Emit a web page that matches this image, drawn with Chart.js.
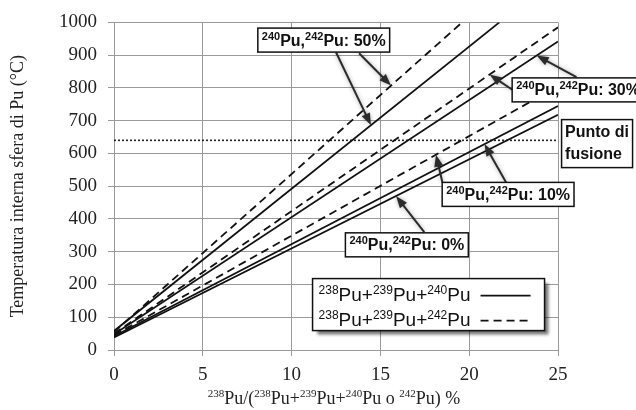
<!DOCTYPE html>
<html>
<head>
<meta charset="utf-8">
<script src="https://cdn.jsdelivr.net/npm/chart.js@4/dist/chart.umd.min.js"></script>
<style>
  html, body { margin: 0; padding: 0; background: #fff; }
  #wrap { width: 636px; height: 410px; }
</style>
</head>
<body>
<div id="wrap"><canvas id="pu-chart"></canvas></div>
<script>
// Pu sphere centre temperature vs 238Pu fraction, for several 240Pu / 242Pu contents
const pctLabels = ["50%", "30%", "10%", "0%"];

// 238Pu+239Pu+240Pu (solid): value at 0 % and at the last point
const pu240StartY = [58, 48, 42, 38];
const pu240EndX = [21.7, 25, 25, 25];
const pu240EndY = [1000, 942, 745, 718];

// 238Pu+239Pu+242Pu (dashed), the 0% case is the same curve as above
const pu242StartY = [55, 50, 45];
const pu242EndX = [19.6, 25, 25];
const pu242EndY = [1000, 985, 805];

const meltingPoint = 640;
const xTicks = [0, 5, 10, 15, 20, 25];
const yTicks = [0, 100, 200, 300, 400, 500, 600, 700, 800, 900, 1000];

const SERIF = "'Liberation Serif', 'Times New Roman', serif";
const SANS = "'Liberation Sans', Arial, sans-serif";

function lineData(startY, endX, endY, i) {
    return [{ x: 0, y: startY[i] }, { x: endX[i], y: endY[i] }];
}
function lineYAt(startY, endX, endY, i, x) {
    return startY[i] + (endY[i] - startY[i]) * x / endX[i];
}

const datasets = [];
pctLabels.forEach((p, i) => {
    if (i < pu242StartY.length) {
        datasets.push({
            label: "242Pu " + p,
            data: lineData(pu242StartY, pu242EndX, pu242EndY, i),
            borderColor: "#111",
            borderWidth: 1.8,
            borderDash: [8, 5],
        });
    }
    datasets.push({
        label: "240Pu " + p,
        data: lineData(pu240StartY, pu240EndX, pu240EndY, i),
        borderColor: "#111",
        borderWidth: 1.8,
    });
});
datasets.push({
    label: "Punto di fusione",
    data: [{ x: xTicks[0], y: meltingPoint }, { x: xTicks[xTicks.length - 1], y: meltingPoint }],
    borderColor: "#222",
    borderWidth: 1.6,
    borderDash: [2, 2],
});

// text with "^123" pieces drawn as superscripts
function richParts(str) {
    return str.match(/\^\d+|[^^]+/g).map(s => s[0] === "^" ? { t: s.slice(1), sup: true } : { t: s, sup: false });
}
function partFont(p, f) {
    return (f.weight || "normal") + " " + (p.sup ? f.sup : f.size) + "px " + f.family;
}
function richWidth(ctx, str, f) {
    let w = 0;
    richParts(str).forEach(p => { ctx.font = partFont(p, f); w += ctx.measureText(p.t).width; });
    return w;
}
function drawRich(ctx, str, x, cy, f, align) {
    const w = richWidth(ctx, str, f);
    let cx = align === "center" ? x - w / 2 : x;
    const base = cy + f.size * 0.35;
    ctx.textBaseline = "alphabetic";
    ctx.textAlign = "left";
    richParts(str).forEach(p => {
        ctx.font = partFont(p, f);
        ctx.fillText(p.t, cx, p.sup ? base - f.size * 0.38 : base);
        cx += ctx.measureText(p.t).width;
    });
}

function drawArrow(ctx, x1, y1, x2, y2) {
    const ang = Math.atan2(y2 - y1, x2 - x1);
    const len = 12, half = 4.5;
    ctx.save();
    ctx.strokeStyle = "#2b2b2b";
    ctx.fillStyle = "#2b2b2b";
    ctx.lineWidth = 2;
    ctx.shadowColor = "rgba(0,0,0,0.35)";
    ctx.shadowBlur = 4;
    ctx.beginPath();
    ctx.moveTo(x1, y1);
    ctx.lineTo(x2 - Math.cos(ang) * len * 0.8, y2 - Math.sin(ang) * len * 0.8);
    ctx.stroke();
    ctx.beginPath();
    ctx.moveTo(x2, y2);
    ctx.lineTo(x2 - Math.cos(ang) * len - Math.sin(ang) * half, y2 - Math.sin(ang) * len + Math.cos(ang) * half);
    ctx.lineTo(x2 - Math.cos(ang) * len + Math.sin(ang) * half, y2 - Math.sin(ang) * len - Math.cos(ang) * half);
    ctx.closePath();
    ctx.fill();
    ctx.restore();
}

function drawBox(ctx, left, top, w, h, shadow) {
    ctx.save();
    if (shadow) {
        ctx.shadowColor = "rgba(0,0,0,0.55)";
        ctx.shadowOffsetX = 4;
        ctx.shadowOffsetY = 4;
        ctx.shadowBlur = 3;
    }
    ctx.fillStyle = "#fff";
    ctx.fillRect(left, top, w, h);
    ctx.restore();
    ctx.strokeStyle = "#111";
    ctx.lineWidth = 1.5;
    ctx.strokeRect(left, top, w, h);
}

// callout boxes: centre in data units, arrows from a point on the box to a point on a curve
const labelFont = { size: 16, sup: 11, family: SANS, weight: "bold" };
const callouts = [
    { text: "^240Pu,^242Pu: " + pctLabels[0], at: [11.81, 946],
      arrows: [{ from: [12.5, 909], set: "240", i: 0, x: 14.47 }, { from: [13.8, 906], set: "242", i: 0, x: 15.6 }] },
    { text: "^240Pu,^242Pu: " + pctLabels[1], at: [26.13, 794],
      arrows: [{ from: [22.47, 793], set: "242", i: 1, x: 21.15 }, { from: [26.04, 833], set: "240", i: 1, x: 23.8 }] },
    { text: "^240Pu,^242Pu: " + pctLabels[2], at: [22.19, 475],
      arrows: [{ from: [18.49, 512], set: "242", i: 2, x: 18.13 }, { from: [22.08, 511], set: "240", i: 2, x: 20.86 }] },
    { text: "^240Pu,^242Pu: " + pctLabels[3], at: [16.49, 321],
      arrows: [{ from: [17.47, 360], set: "240", i: 3, x: 15.88 }] },
];

const annotations = {
    id: "annotations",
    afterDraw(chart) {
        const ctx = chart.ctx;
        const xs = chart.scales.x, ys = chart.scales.y;
        const px = v => xs.getPixelForValue(v), py = v => ys.getPixelForValue(v);
        ctx.save();
        ctx.fillStyle = "#111";

        callouts.forEach(c => {
            c.arrows.forEach(a => {
                const yv = a.set === "240"
                    ? lineYAt(pu240StartY, pu240EndX, pu240EndY, a.i, a.x)
                    : lineYAt(pu242StartY, pu242EndX, pu242EndY, a.i, a.x);
                drawArrow(ctx, px(a.from[0]), py(a.from[1]), px(a.x), py(yv));
            });
        });
        callouts.forEach(c => {
            const w = richWidth(ctx, c.text, labelFont) + 8, h = 24;
            const cx = px(c.at[0]), cy = py(c.at[1]);
            drawBox(ctx, cx - w / 2, cy - h / 2, w, h, false);
            ctx.fillStyle = "#111";
            drawRich(ctx, c.text, cx, cy, labelFont, "center");
        });

        // melting point label
        const mx = px(27.2), my = py(630);
        drawBox(ctx, mx - 35.5, my - 24, 71, 48, false);
        ctx.fillStyle = "#111";
        ctx.font = "bold 16px " + SANS;
        ctx.textAlign = "left";
        ctx.textBaseline = "middle";
        ctx.fillText("Punto di", mx - 32, my - 11);
        ctx.fillText("fusione", mx - 32, my + 11);

        // legend
        const lf = { size: 19, sup: 12, family: SANS };
        const lx = px(11.18), ly = py(218);
        drawBox(ctx, lx, ly, 232, 52, true);
        ctx.fillStyle = "#111";
        drawRich(ctx, "^238Pu+^239Pu+^240Pu", lx + 6, ly + 16, lf, "left");
        drawRich(ctx, "^238Pu+^239Pu+^242Pu", lx + 6, ly + 41, lf, "left");
        ctx.strokeStyle = "#111";
        ctx.lineWidth = 1.8;
        ctx.beginPath();
        ctx.moveTo(lx + 168, ly + 17);
        ctx.lineTo(lx + 218, ly + 17);
        ctx.stroke();
        ctx.setLineDash([8, 5]);
        ctx.beginPath();
        ctx.moveTo(lx + 168, ly + 42);
        ctx.lineTo(lx + 218, ly + 42);
        ctx.stroke();
        ctx.setLineDash([]);

        // axis titles
        ctx.fillStyle = "#222";
        drawRich(ctx, "^238Pu/(^238Pu+^239Pu+^240Pu o ^242Pu) %", (chart.chartArea.left + chart.chartArea.right) / 2 - 2, 398,
            { size: 18, sup: 11, family: SERIF }, "center");
        ctx.save();
        ctx.translate(18, (chart.chartArea.top + chart.chartArea.bottom) / 2);
        ctx.rotate(-Math.PI / 2);
        ctx.font = "18px " + SERIF;
        ctx.textAlign = "center";
        ctx.textBaseline = "middle";
        ctx.fillText("Temperatura interna sfera di Pu (°C)", 0, 0);
        ctx.restore();

        ctx.restore();
    }
};

const ctx = document.getElementById("pu-chart").getContext("2d");

new Chart(ctx, {
    type: "scatter",
    data: { datasets: datasets },
    options: {
        responsive: true,
        maintainAspectRatio: false,
        animation: false,
        showLine: true,
        elements: { point: { radius: 0, hoverRadius: 0 }, line: { tension: 0 } },
        layout: { padding: { left: 0, top: 20, right: 78, bottom: 0 } },
        plugins: { legend: { display: false }, tooltip: { enabled: false } },
        scales: {
            x: {
                type: "linear",
                min: xTicks[0],
                max: xTicks[xTicks.length - 1],
                afterBuildTicks: s => { s.ticks = xTicks.map(v => ({ value: v })); },
                afterFit: s => { s.height = 60; },
                ticks: { color: "#222", padding: 8, font: { family: SERIF, size: 19 }, callback: v => String(v) },
                grid: { color: "#9a9a9a", lineWidth: 1, tickLength: 6 },
                border: { color: "#9a9a9a" },
            },
            y: {
                type: "linear",
                min: yTicks[0],
                max: yTicks[yTicks.length - 1],
                afterBuildTicks: s => { s.ticks = yTicks.map(v => ({ value: v })); },
                afterFit: s => { s.width = 114; },
                ticks: { color: "#222", padding: 11, font: { family: SERIF, size: 19 }, callback: v => String(v) },
                grid: { color: "#9a9a9a", lineWidth: 1, tickLength: 6 },
                border: { color: "#9a9a9a" },
            },
        },
    },
    plugins: [annotations],
});
</script>
</body>
</html>
